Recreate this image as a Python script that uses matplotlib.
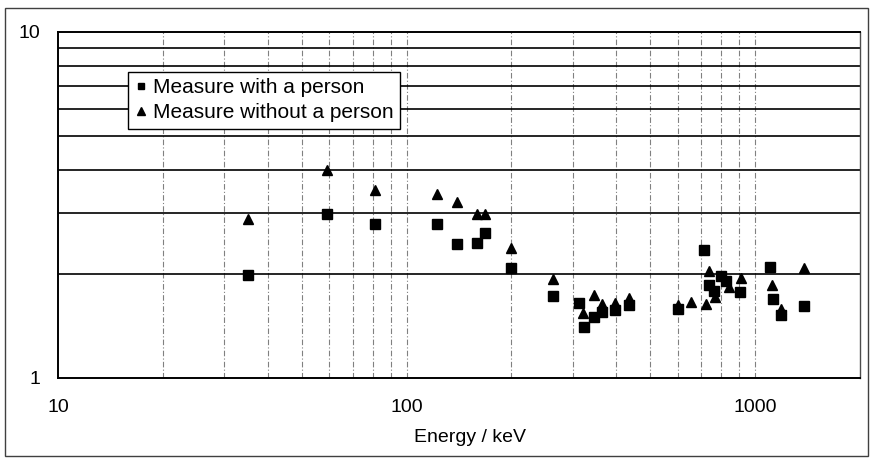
import matplotlib
matplotlib.use("Agg")
import matplotlib.pyplot as plt
from matplotlib.patches import Rectangle
from matplotlib.ticker import FixedLocator, NullFormatter, NullLocator

plt.rcParams['font.family'] = ['Liberation Sans', 'DejaVu Sans']

# Energy (keV) and measured ratio, with a person present
energy_with = [35, 59, 81, 122, 140, 159, 168, 200, 264, 313, 324, 345, 363, 397,
               436, 600, 712, 737, 760, 798, 826, 903, 1104, 1125, 1190, 1380]
value_with = [1.99, 2.98, 2.79, 2.78, 2.44, 2.45, 2.63, 2.08, 1.73, 1.65, 1.40, 1.50,
              1.55, 1.57, 1.63, 1.58, 2.35, 1.86, 1.79, 1.97, 1.91, 1.77, 2.09, 1.69,
              1.52, 1.61]

# Energy (keV) and measured ratio, without a person
energy_without = [35, 59, 81, 122, 140, 159, 168, 200, 264, 320, 344, 363, 397, 436,
                  600, 654, 722, 737, 765, 839, 909, 1120, 1190, 1380]
value_without = [2.88, 4.0, 3.5, 3.40, 3.23, 2.97, 2.98, 2.38, 1.93, 1.54, 1.74, 1.64,
                 1.65, 1.70, 1.63, 1.66, 1.64, 2.04, 1.71, 1.83, 1.95, 1.86, 1.58, 2.08]

x_ticks = [10, 100, 1000]
x_tick_labels = ["10", "100", "1000"]
y_ticks = [1, 10]
y_tick_labels = ["1", "10"]

W, H = 873, 462
fig = plt.figure(figsize=(W / 100, H / 100), dpi=100)
fig.patch.set_facecolor("white")

# outer frame around the whole chart
fig.add_artist(Rectangle((5 / W, 1 - 456 / H), 863 / W, 448 / H,
                         transform=fig.transFigure, fill=False,
                         edgecolor="0.25", linewidth=1.0))

left, right, top, bottom = 58, 860, 32, 378
ax = fig.add_axes([left / W, 1 - bottom / H, (right - left) / W, (bottom - top) / H])
ax.set_xscale("log")
ax.set_yscale("log")
ax.set_xlim(10, 2000)
ax.set_ylim(1, 10)

# grid: solid horizontal lines, dashed grey vertical lines
minor_x = [m * 10 ** d for d in (1, 2, 3) for m in range(2, 10) if m * 10 ** d < 2000]
for xv in minor_x + [100, 1000]:
    ax.axvline(xv, color="0.5", linewidth=0.8, linestyle=(0, (5, 2, 1, 2)), zorder=1)
for yv in range(2, 10):
    ax.axhline(yv, color="black", linewidth=1.2, zorder=1)

ax.xaxis.set_major_locator(FixedLocator(x_ticks))
ax.set_xticklabels(x_tick_labels)
ax.xaxis.set_minor_locator(NullLocator())
ax.xaxis.set_minor_formatter(NullFormatter())
ax.yaxis.set_major_locator(FixedLocator(y_ticks))
ax.set_yticklabels(y_tick_labels)
ax.yaxis.set_minor_locator(NullLocator())
ax.yaxis.set_minor_formatter(NullFormatter())
ax.tick_params(axis="both", length=0, labelsize=14)
ax.tick_params(axis="x", pad=15)
ax.tick_params(axis="y", pad=13)

for side in ("left", "bottom", "top"):
    ax.spines[side].set_linewidth(1.4)
ax.spines["right"].set_linewidth(1.0)
ax.spines["right"].set_color("0.3")

ax.plot(energy_with, value_with, linestyle="none", marker="s", markersize=6.5,
        color="black", label="Measure with a person", zorder=3)
ax.plot(energy_without, value_without, linestyle="none", marker="^", markersize=7.5,
        color="black", label="Measure without a person", zorder=3)

leg = ax.legend(loc="upper left", bbox_to_anchor=((128 - left) / (right - left),
                                                   1 - (72 - top) / (bottom - top)),
                fontsize=15, frameon=True, fancybox=False, framealpha=1,
                edgecolor="black", borderpad=0.3, labelspacing=0.3,
                handlelength=0.6, handletextpad=0.3, markerscale=0.7,
                borderaxespad=0)
leg.get_frame().set_linewidth(1.0)

fig.text(470 / W, 1 - 437 / H, "Energy / keV", ha="center", va="center", fontsize=14)

fig.savefig("out.png", dpi=100, facecolor="white")
